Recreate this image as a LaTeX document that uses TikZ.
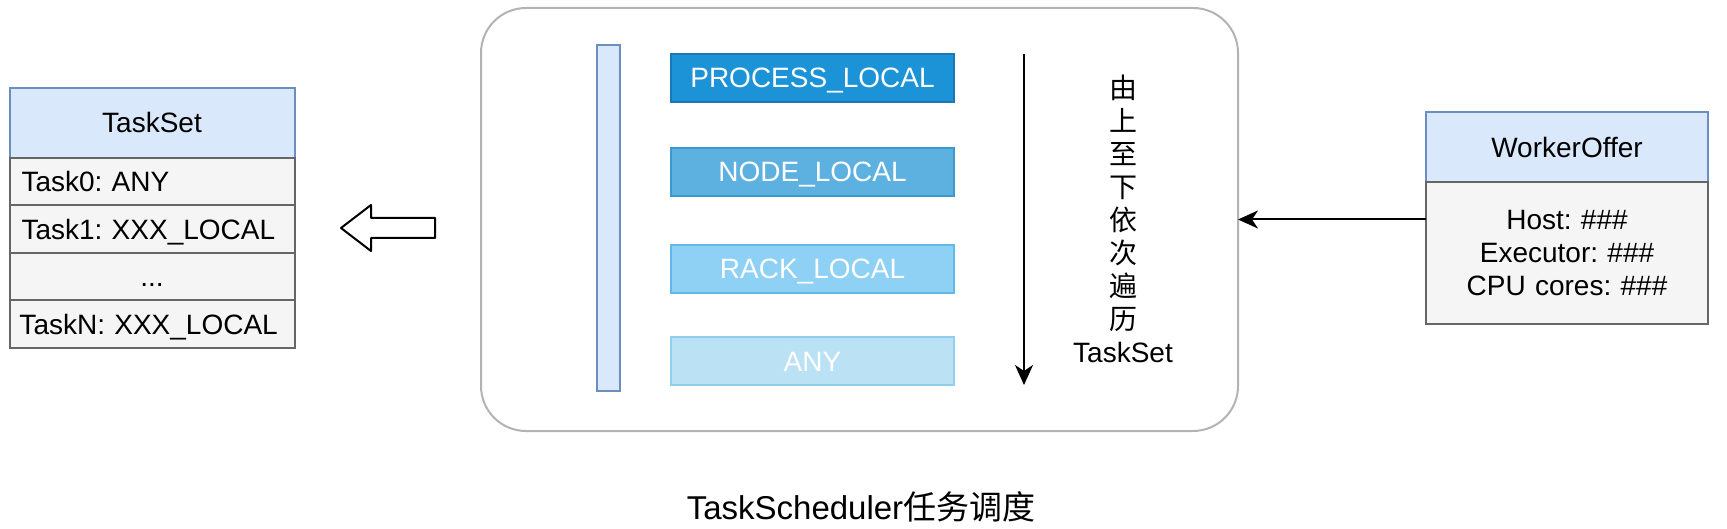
\documentclass[tikz,border=0pt]{standalone}
\usepackage{fontspec}
\setmainfont{Liberation Sans}
\newfontfamily\cjk{Noto Sans CJK SC}
\usetikzlibrary{positioning,arrows.meta}
\frenchspacing

\definecolor{hdfill}{HTML}{DAE8FC}
\definecolor{hddraw}{HTML}{6C8EBF}
\definecolor{rowfill}{HTML}{F5F5F5}
\definecolor{rowdraw}{HTML}{666666}
\definecolor{boxgray}{HTML}{B3B3B3}
\definecolor{lvone}{HTML}{1C93D6}
\definecolor{lvonedraw}{HTML}{1779BA}
\definecolor{lvtwo}{HTML}{5DB1E1}
\definecolor{lvtwodraw}{HTML}{3D98D0}
\definecolor{lvthree}{HTML}{8ED1F4}
\definecolor{lvthreedraw}{HTML}{62B8E6}
\definecolor{lvfour}{HTML}{BAE1F4}
\definecolor{lvfourdraw}{HTML}{93CDEE}

\tikzset{
	oneline/.style={text height=20pt,text depth=0pt},
	hdbox/.style={draw=hddraw,fill=hdfill,line width=2pt},
	rowbox/.style={draw=rowdraw,fill=rowfill,line width=2pt,minimum height=47.5pt,
		text width=261pt,inner xsep=12pt,align=left},
	lvbox/.style={oneline,line width=2pt,minimum width=283pt,minimum height=48pt,text=white},
	arr/.style={-{Stealth[length=20pt,width=18pt,inset=6pt]},line width=2pt}
}

\begin{document}
\begin{tikzpicture}
	[x=1pt,y=-1pt,every node/.style={inner sep=0pt,outer sep=0pt,
		font=\fontsize{28}{33}\selectfont}]
	\useasboundingbox (0,0) rectangle (1727,529);
	% TaskSet
	\node[hdbox,oneline,minimum width=285pt,minimum height=70pt] (ts) at (152,123) {TaskSet};
	\node[rowbox,oneline,below=0pt of ts] (t0) {Task0: ANY};
	\node[rowbox,oneline,below=0pt of t0] (t1) {Task1: XXX\_LOCAL};
	\node[rowbox,oneline,below=0pt of t1,align=center] (tdots) {...};
	\node[rowbox,oneline,below=0pt of tdots,inner xsep=10pt,text width=265pt] (tn) {TaskN: XXX\_LOCAL};
	% hollow arrow
	\coordinate (hx) at (341,228);
	\draw[line width=2pt,fill=white,line join=round] (hx) -- ++(30,-23) -- ++(0,13) -- ++(64,0)
		-- ++(0,20) -- ++(-64,0) -- ++(0,13) -- cycle;
	% scheduler
	\node[draw=boxgray,line width=2pt,rounded corners=45pt,minimum width=757pt,
		minimum height=423pt] (sched) at (859.5,219.5) {};
	\node[hdbox,minimum width=23pt,minimum height=346pt] (bar) at (608.5,218) {};
	\foreach \lv/\ly/\lc/\lt in {pl/78/lvone/PROCESS\_LOCAL,nl/172/lvtwo/NODE\_LOCAL,
		rl/269/lvthree/RACK\_LOCAL,any/361/lvfour/ANY}
	{
		\node[lvbox,fill=\lc,draw=\lc draw] (\lv) at (812.5,\ly) {\lt};
	}
	\coordinate (vx) at (1024,0);
	\draw[arr] (pl.north -| vx) -- (any.south -| vx);
	\node[align=center,font=\cjk\fontsize{28}{33}\selectfont] (order) at (1123,219)
		{由\\上\\至\\下\\依\\次\\遍\\历\\\normalfont TaskSet};
	% WorkerOffer
	\node[hdbox,oneline,minimum width=282pt,minimum height=70pt] (wo) at (1567,147.5) {WorkerOffer};
	\node[rowbox,below=0pt of wo,minimum height=142pt,text width=282pt,inner xsep=0pt,
		align=center] (wob) {Host: \#\#\#\\Executor: \#\#\#\\CPU cores: \#\#\#};
	\draw[arr] (sched.east -| wob.west) -- (sched.east);
	\node[font=\fontsize{33}{40}\selectfont] (cap) at (861,507) {TaskScheduler{\cjk 任务调度}};
\end{tikzpicture}
\end{document}
